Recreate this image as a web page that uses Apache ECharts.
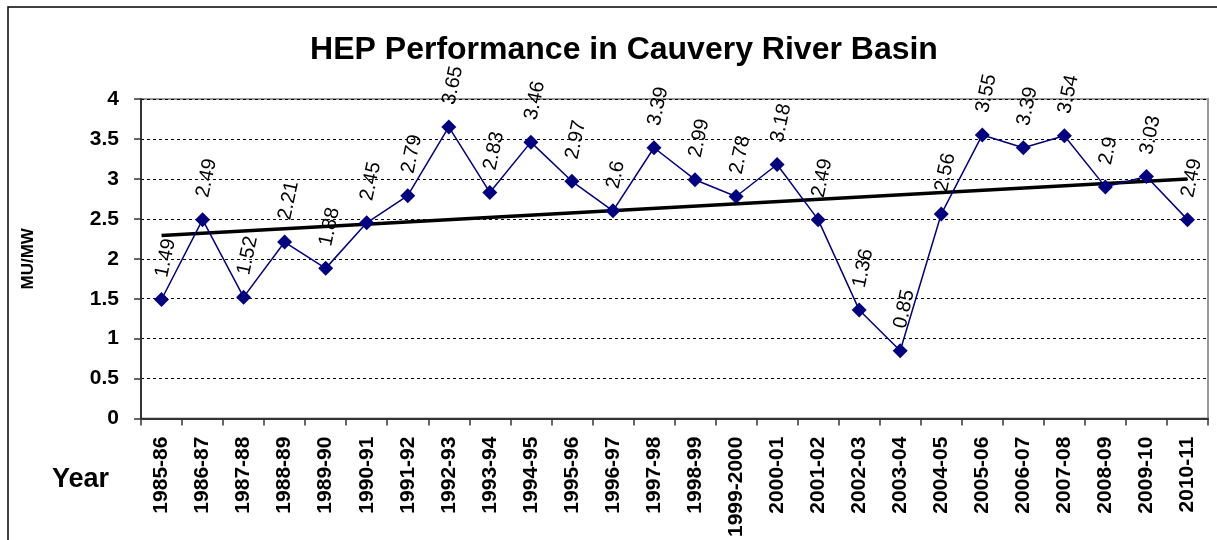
<!DOCTYPE html>
<html><head><meta charset="utf-8">
<script src="https://cdn.jsdelivr.net/npm/echarts@6/dist/echarts.min.js"></script>
<style>html,body{margin:0;padding:0;background:#fff}#c{width:1217px;height:540px}</style>
</head><body><div id="c"></div>
<script>
const categories = ['1985-86','1986-87','1987-88','1988-89','1989-90','1990-91','1991-92','1992-93','1993-94','1994-95','1995-96','1996-97','1997-98','1998-99','1999-2000','2000-01','2001-02','2002-03','2003-04','2004-05','2005-06','2006-07','2007-08','2008-09','2009-10','2010-11'];
const values = [1.49,2.49,1.52,2.21,1.88,2.45,2.79,3.65,2.83,3.46,2.97,2.6,3.39,2.99,2.78,3.18,2.49,1.36,0.85,2.56,3.55,3.39,3.54,2.9,3.03,2.49];
const trendEnds = [2.29, 3.0];
const yTicks = { min: 0, max: 4, interval: 0.5 };

const trend = categories.map((c, i) => i === 0 ? trendEnds[0] : (i === categories.length - 1 ? trendEnds[1] : null));

const chart = echarts.init(document.getElementById('c'));
const F = 'Arial, "Liberation Sans", sans-serif';
chart.setOption({
  animation: false,
  title: { text: 'HEP Performance in Cauvery River Basin', left: 619, textAlign: 'center', top: 29,
    textStyle: { fontFamily: F, fontSize: 32, fontWeight: 'bold', color: '#000' } },
  grid: { left: 141, top: 99, right: 9, bottom: 121, show: true, borderColor: '#999', borderWidth: 2 },
  graphic: [
    { type: 'rect', shape: { x: 8, y: 7, width: 1400, height: 700 }, style: { fill: null, stroke: '#000', lineWidth: 1.5 }, silent: true, z: -10 },
    { type: 'text', left: 52, top: 466, style: { text: 'Year', font: 'bold 27px ' + F, fill: '#000' } }
  ],
  xAxis: {
    type: 'category', data: categories, boundaryGap: true,
    axisLine: { lineStyle: { color: '#333', width: 2 } },
    axisTick: { show: true, interval: 0, length: 7, lineStyle: { color: '#333', width: 1.5 } },
    axisLabel: { interval: 0, rotate: 90, margin: 18, fontFamily: F, fontSize: 21, fontWeight: 'bold', color: '#000' },
    splitLine: { show: false }
  },
  yAxis: {
    type: 'value', min: yTicks.min, max: yTicks.max, interval: yTicks.interval,
    name: 'MU/MW', nameLocation: 'middle', nameGap: 104, nameRotate: 90,
    nameTextStyle: { fontFamily: F, fontSize: 17, fontWeight: 'bold', color: '#000' },
    axisLine: { show: true, lineStyle: { color: '#333', width: 2 } },
    axisTick: { show: true, length: 7, lineStyle: { color: '#333', width: 1.5 } },
    axisLabel: { margin: 22, fontFamily: F, fontSize: 21, fontWeight: 'bold', color: '#000' },
    splitLine: { show: true, lineStyle: { color: '#000', type: [3, 3], width: 1 } }
  },
  series: [
    { type: 'line', data: trend, connectNulls: true, symbol: 'none',
      lineStyle: { color: '#000', width: 3.5 }, z: 3, silent: true },
    { type: 'line', data: values, symbol: 'diamond', symbolSize: 15,
      lineStyle: { color: '#000080', width: 1.5 }, itemStyle: { color: '#000080' }, z: 4,
      label: { show: true, position: 'top', distance: 15, rotate: 78, align: 'left', verticalAlign: 'middle',
        fontFamily: F, fontSize: 20, color: '#000', formatter: p => String(p.value) } }
  ]
});
</script></body></html>
